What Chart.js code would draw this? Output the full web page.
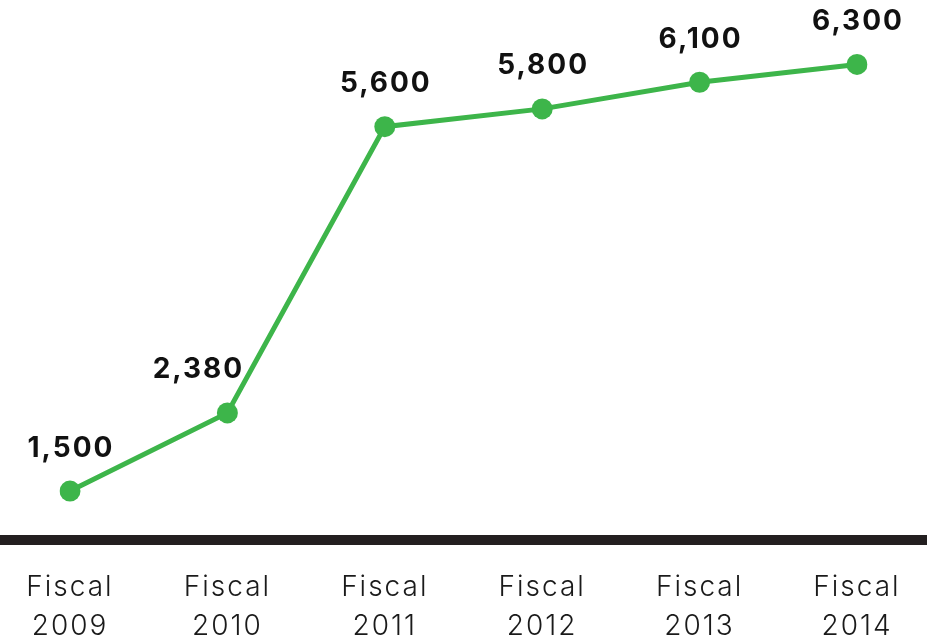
<!DOCTYPE html>
<html>
<head>
<meta charset="utf-8">
<script src="https://cdn.jsdelivr.net/npm/chart.js@4"></script>
<style>
    html, body { margin: 0; padding: 0; background: #ffffff; }
    #wrap { width: 927px; height: 639px; }
</style>
</head>
<body>
<div id="wrap"><canvas id="myCanvas" width="927" height="639"></canvas></div>
<script>
const years = ['2009', '2010', '2011', '2012', '2013', '2014'];
const categories = years.map(y => ['Fiscal', y]);
const values = [1500, 2380, 5600, 5800, 6100, 6300];
const valueLabels = ['1,500', '2,380', '5,600', '5,800', '6,100', '6,300'];

document.addEventListener('DOMContentLoaded', function () {

    const canvas = document.getElementById('myCanvas');
    const context = canvas.getContext('2d');

    // slightly wider tracking for all text
    const tracking = {
        id: 'tracking',
        beforeDraw: function (chart) {
            chart.ctx.letterSpacing = '2px';
        }
    };

    // thick dark rule under the plot, across the whole width
    const baseLine = {
        id: 'baseLine',
        beforeDatasetsDraw: function (chart) {
            const ctx = chart.ctx;
            const y = chart.chartArea.bottom;
            ctx.save();
            ctx.fillStyle = '#231f20';
            ctx.fillRect(0, y - 5, chart.width, 10);
            ctx.restore();
        }
    };

    // bold value above each point; 2010 nudged left off the line
    const valueText = {
        id: 'valueText',
        afterDatasetsDraw: function (chart) {
            const ctx = chart.ctx;
            const meta = chart.getDatasetMeta(0);
            ctx.save();
            ctx.font = 'bold 28px Inter, "Noto Sans", sans-serif';
            ctx.fillStyle = '#111111';
            ctx.textAlign = 'center';
            ctx.textBaseline = 'middle';
            meta.data.forEach(function (pt, i) {
                const dx = i === 1 ? -30 : 0;
                ctx.fillText(valueLabels[i], pt.x + dx + 1, pt.y - 43);
            });
            ctx.restore();
        }
    };

    new Chart(context, {
        type: 'line',
        data: {
            labels: categories,
            datasets: [{
                data: values,
                borderColor: '#3db54a',
                backgroundColor: '#3db54a',
                borderWidth: 5,
                pointRadius: 10.5,
                pointHoverRadius: 10.5,
                pointBorderWidth: 0,
                tension: 0,
                fill: false
            }]
        },
        options: {
            responsive: false,
            animation: false,
            layout: {
                padding: { left: 70, right: 70, top: 20, bottom: 0 }
            },
            plugins: {
                legend: { display: false },
                tooltip: { enabled: false }
            },
            scales: {
                x: {
                    offset: false,
                    border: { display: false },
                    grid: { display: false, drawTicks: false },
                    ticks: {
                        color: '#1a1a1a',
                        padding: 28,
                        maxRotation: 0,
                        autoSkip: false,
                        font: { family: 'Inter, "Noto Sans", sans-serif', size: 28, weight: 300, lineHeight: 1.4 }
                    },
                    afterFit: function (scale) { scale.height = 99; }
                },
                y: {
                    display: false,
                    min: 950,
                    max: 6800
                }
            }
        },
        plugins: [tracking, baseLine, valueText]
    });
});
</script>
</body>
</html>
